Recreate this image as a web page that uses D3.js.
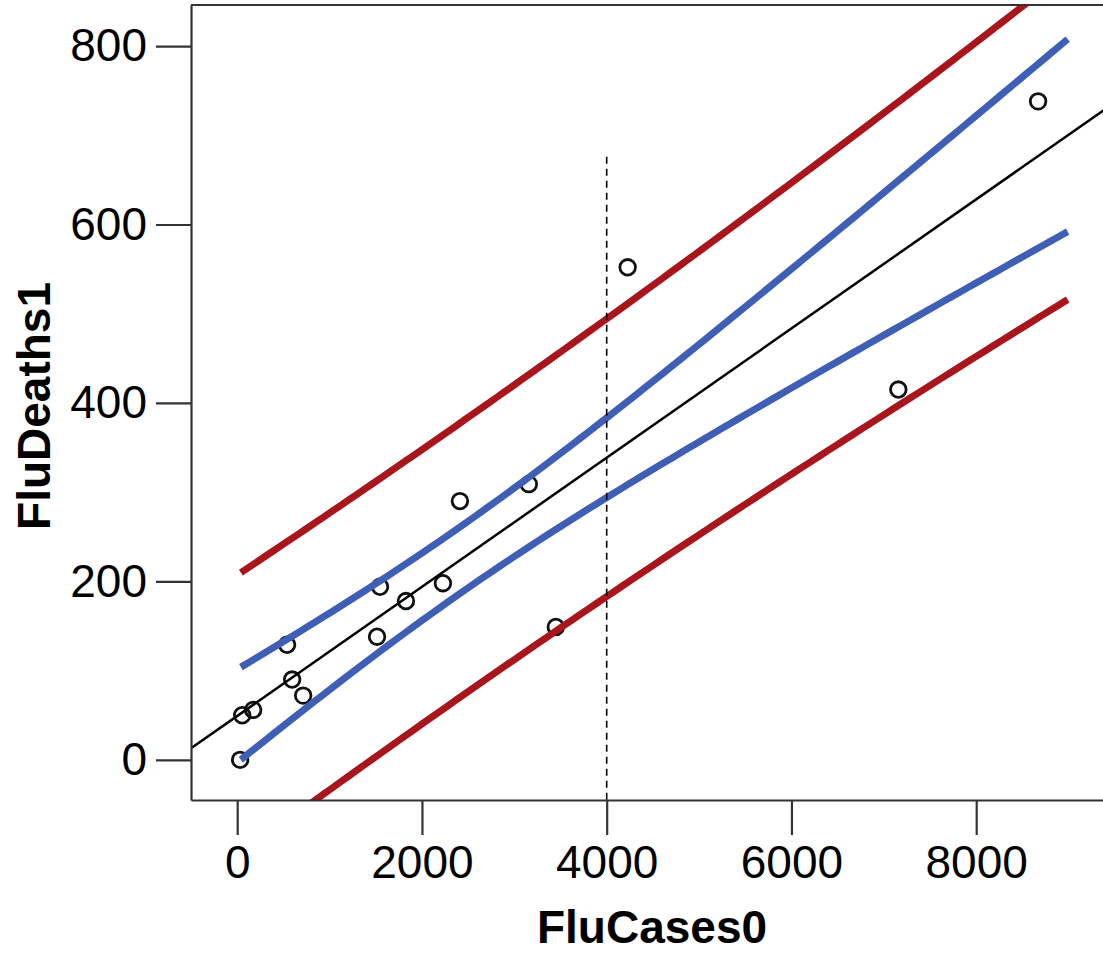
<!DOCTYPE html>
<html>
<head>
<meta charset="utf-8">
<script src="https://cdn.jsdelivr.net/npm/d3@7"></script>
<style>
	body { margin: 0; background: #fff; }
	text { font-family: "Liberation Sans", Arial, sans-serif; }
</style>
</head>
<body>
<svg id="svg" width="1103" height="953"></svg>
<script>
const width = 1103;
const height = 953;

const paddings = {
	left: 191,
	top: 5,
	right: 1112,
	bottom: 800
};

// FluCases0 / FluDeaths1 pairs
const fluCases = [32, 54, 173, 540, 595, 714, 1514, 1546, 1827, 2227, 2411, 3157, 3449, 4227, 7157, 8670];
const fluDeaths = [0, 50, 56, 129, 90, 72, 138, 194, 178, 198, 290, 309, 149, 552, 415, 738];

const xTicks = [0, 2000, 4000, 6000, 8000];
const yTicks = [0, 200, 400, 600, 800];

const bandRange = [40, 8990];   // x span of the confidence / prediction bands
const bandSE = 69.5;            // residual standard error used by the bands
const tValue = 2.145;           // t(0.975, df = 14)
const cutoffX = 4000;
const cutoffTop = 676;

const ciColor = '#3f5fb6';
const piColor = '#a8151c';

const svg = d3.select('#svg');

const xScale = d3.scaleLinear()
	.domain([-500, 9470])
	.range([paddings.left, paddings.right]);

const yScale = d3.scaleLinear()
	.domain([-45, 846])
	.range([paddings.bottom, paddings.top]);

// least squares fit
const n = fluCases.length;
const xMean = d3.mean(fluCases);
const yMean = d3.mean(fluDeaths);
const sxx = d3.sum(fluCases, x => (x - xMean) ** 2);
const sxy = d3.sum(fluCases, (x, i) => (x - xMean) * (fluDeaths[i] - yMean));
const slope = sxy / sxx;
const intercept = yMean - slope * xMean;
const fit = x => intercept + slope * x;

const bandXs = d3.range(bandRange[0], bandRange[1] + 1, (bandRange[1] - bandRange[0]) / 100);
const halfWidth = (x, extra) => tValue * bandSE * Math.sqrt(extra + 1 / n + (x - xMean) ** 2 / sxx);

svg.append('clipPath')
	.attr('id', 'plot-clip')
	.append('rect')
	.attr('x', paddings.left)
	.attr('y', paddings.top)
	.attr('width', paddings.right - paddings.left)
	.attr('height', paddings.bottom - paddings.top);

const line = d3.line()
	.x(d => xScale(d[0]))
	.y(d => yScale(d[1]));

const plot = svg.append('g').attr('clip-path', 'url(#plot-clip)');

// points
plot.selectAll(null)
	.data(fluCases)
	.enter()
	.append('circle')
	.attr('cx', d => xScale(d))
	.attr('cy', (d, i) => yScale(fluDeaths[i]))
	.attr('r', 7.8)
	.attr('fill', 'none')
	.attr('stroke', '#111')
	.attr('stroke-width', 2.8);

// prediction band
[1, -1].forEach(sign => {
	plot.append('path')
		.datum(bandXs.map(x => [x, fit(x) + sign * halfWidth(x, 1)]))
		.attr('d', line)
		.attr('fill', 'none')
		.attr('stroke', piColor)
		.attr('stroke-width', 7);
});

// confidence band
[1, -1].forEach(sign => {
	plot.append('path')
		.datum(bandXs.map(x => [x, fit(x) + sign * halfWidth(x, 0)]))
		.attr('d', line)
		.attr('fill', 'none')
		.attr('stroke', ciColor)
		.attr('stroke-width', 7);
});

// fitted line
plot.append('path')
	.datum(xScale.domain().map(x => [x, fit(x)]))
	.attr('d', line)
	.attr('fill', 'none')
	.attr('stroke', '#000')
	.attr('stroke-width', 2.5);

// cutoff marker
plot.append('path')
	.datum([[cutoffX, cutoffTop], [cutoffX, yScale.domain()[0]]])
	.attr('d', line)
	.attr('stroke', '#000')
	.attr('stroke-width', 1.6)
	.attr('stroke-dasharray', '7,5');

// axes
const xAxis = d3.axisBottom(xScale)
	.tickValues(xTicks)
	.tickFormat(d3.format('d'))
	.tickSize(35)
	.tickPadding(10)
	.tickSizeOuter(0);

const yAxis = d3.axisLeft(yScale)
	.tickValues(yTicks)
	.tickFormat(d3.format('d'))
	.tickSize(35)
	.tickPadding(9)
	.tickSizeOuter(0);

const xg = svg.append('g')
	.attr('class', 'x-axis-group')
	.attr('transform', 'translate(0,' + paddings.bottom + ')')
	.call(xAxis);

const yg = svg.append('g')
	.attr('class', 'y-axis-group')
	.attr('transform', 'translate(' + paddings.left + ',0)')
	.call(yAxis);

[xg, yg].forEach(g => {
	g.selectAll('path, line').attr('stroke', '#333').attr('stroke-width', 2.2);
	g.selectAll('text')
		.attr('fill', '#000')
		.style('font-size', '46px')
		.style('font-family', '"Liberation Sans", Arial, sans-serif');
});

// top border
svg.append('line')
	.attr('x1', paddings.left)
	.attr('x2', width)
	.attr('y1', paddings.top)
	.attr('y2', paddings.top)
	.attr('stroke', '#333')
	.attr('stroke-width', 2.2);

svg.append('text')
	.attr('x', 652)
	.attr('y', 943)
	.attr('text-anchor', 'middle')
	.style('font-size', '46px')
	.style('font-weight', 'bold')
	.text('FluCases0');

svg.append('text')
	.attr('transform', 'translate(50,406) rotate(-90)')
	.attr('text-anchor', 'middle')
	.style('font-size', '46px')
	.style('font-weight', 'bold')
	.text('FluDeaths1');
</script>
</body>
</html>
